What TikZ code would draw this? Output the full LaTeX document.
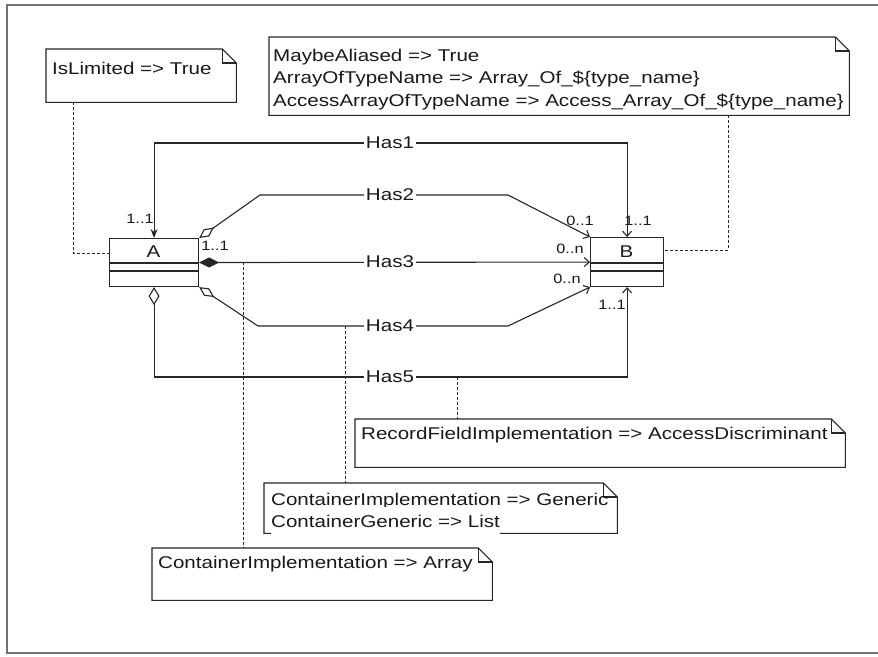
\documentclass[tikz,border=0pt]{standalone}
\usepackage{fontspec}
\setmainfont{Liberation Sans}
\usetikzlibrary{arrows.meta,calc}
\newcommand{\hs}[1]{\scalebox{1.21}[1]{#1}}
\newcommand{\drawnote}[1]{%
  \draw[ln, fill=white] (#1.north west) -- ($(#1.north east)+(-14,0)$) -- ($(#1.north east)+(0,14)$) -- (#1.south east) -- (#1.south west) -- cycle;
  \draw[ln] ($(#1.north east)+(-14,0)$) -- ($(#1.north east)+(-14,14)$) -- ($(#1.north east)+(0,14)$);}
\begin{document}
\begin{tikzpicture}[x=1pt,y=-1pt,
  ln/.style={draw=black!85, line width=1.1pt},
  dl/.style={draw=black!85, line width=1pt, dash pattern=on 3pt off 2pt},
  txt/.style={font=\fontsize{17}{22}\selectfont, inner sep=0pt, text=black!90},
  mult/.style={font=\fontsize{13.5}{15}\selectfont, inner sep=0pt, text=black!90},
  lbl/.style={txt, fill=white, inner xsep=2pt, inner ysep=1pt},
  classbox/.style={draw=black!85, line width=1.1pt, inner sep=0pt, anchor=north west},
  notebox/.style={inner sep=0pt, anchor=north west},
]
\useasboundingbox (0,0) rectangle (878,656);
\fill[white] (0,0) rectangle (878,656);
% frame
\draw[draw=black!55, line width=2pt] (878,5) -- (7,5) -- (7,653) -- (878,653);

% classes
\node[classbox, minimum width=89, minimum height=48] (A) at (109,238) {};
\node[classbox, minimum width=73, minimum height=49] (B) at (590,237) {};
\node[txt] (An) at (153.5,252) {\hs{A}};
\node[txt] (Bn) at (626.5,252) {\hs{B}};
\draw[ln] ($(A.north west)+(0,25)$) -- ($(A.north east)+(0,25)$);
\draw[ln] ($(A.north west)+(0,33)$) -- ($(A.north east)+(0,33)$);
\draw[ln] ($(B.north west)+(0,26)$) -- ($(B.north east)+(0,26)$);
\draw[ln] ($(B.north west)+(0,34)$) -- ($(B.north east)+(0,34)$);

% notes
\node[notebox, minimum width=190, minimum height=53] (nIs) at (46,49) {};
\node[notebox, minimum width=580, minimum height=78] (nBig) at (269,37) {};
\node[notebox, minimum width=490, minimum height=48] (nRec) at (355,419) {};
\node[notebox, minimum width=353, minimum height=50] (nGen) at (264,483) {};
\node[notebox, minimum width=340, minimum height=52] (nArr) at (152,548) {};

% dashed anchors
\coordinate (d1) at (73,253);
\coordinate (d2) at (728,250);
\coordinate (d3) at (243,262);
\coordinate (d4) at (345,326);
\coordinate (d5) at (457,377);
\draw[dl] (nIs.south -| d1) -- (d1) -- (d1 -| A.west);
\draw[dl] (nBig.south -| d2) -- (d2) -- (d2 -| B.east);
\draw[dl] (d3) -- (d3 |- nArr.north);
\draw[dl] (d4) -- (d4 |- nGen.north);
\draw[dl] (d5) -- (d5 |- nRec.north);

\drawnote{nIs}
\drawnote{nBig}
\drawnote{nRec}
\drawnote{nGen}
\drawnote{nArr}

% note texts
\node[txt, anchor=base west] (tIs) at (52,74) {\hs{IsLimited => True}};
\node[txt, anchor=base west] (tB1) at (273,61) {\hs{MaybeAliased => True}};
\node[txt, anchor=base west] (tB2) at (273,83) {\hs{ArrayOfTypeName => Array\_Of\_\$\{type\_name\}}};
\node[txt, anchor=base west] (tB3) at (273,106) {\hs{AccessArrayOfTypeName => Access\_Array\_Of\_\$\{type\_name\}}};
\node[txt, anchor=base west] (tRec) at (361,439) {\hs{RecordFieldImplementation => AccessDiscriminant}};
\node[txt, anchor=base west] (tG1) at (271,505) {\hs{ContainerImplementation => Generic}};
\node[txt, anchor=base west, fill=white, inner ysep=8pt] (tG2) at (271,527) {\hs{ContainerGeneric => List}};
\node[txt, anchor=base west] (tArr) at (158,568) {\hs{ContainerImplementation => Array}};

% associations
\coordinate (h1) at (390,143);
\coordinate (h2a) at (260,195);
\coordinate (h2b) at (508,195);
\coordinate (h3) at (390,262);
\coordinate (h4a) at (258,326);
\coordinate (h4b) at (508,326);
\coordinate (h5) at (390,377);
\draw[ln, {Stealth[length=9pt,width=7pt]}-{Straight Barb[length=5pt,width=9pt]}] (A.north) |- (h1) -| (B.north);
\draw[ln, {Diamond[open,length=18pt,width=9pt]}-{Straight Barb[length=5pt,width=9pt]}] (A.north east) -- (h2a) -- (h2b) -- (B.north west);
\draw[ln, {Diamond[length=20pt,width=10pt]}-{Straight Barb[length=5pt,width=9pt]}] (A.east) -- (B.west);
\draw[ln, {Diamond[open,length=18pt,width=9pt]}-{Straight Barb[length=5pt,width=9pt]}] (A.south east) -- (h4a) -- (h4b) -- (B.south west);
\draw[ln, {Diamond[open,length=18pt,width=11pt]}-{Straight Barb[length=5pt,width=9pt]}] (A.south) |- (h5) -| (B.south);

\node[lbl] (L1) at (h1) {\hs{Has1}};
\node[lbl] (L2) at (390,195) {\hs{Has2}};
\node[lbl] (L3) at (h3) {\hs{Has3}};
\node[lbl] (L4) at (390,326) {\hs{Has4}};
\node[lbl] (L5) at (h5) {\hs{Has5}};

% multiplicities
\node[mult] (m1) at (140,219) {\hs{1..1}};
\node[mult] (m2) at (215,246) {\hs{1..1}};
\node[mult] (m3) at (580,221) {\hs{0..1}};
\node[mult] (m4) at (638,221) {\hs{1..1}};
\node[mult] (m5) at (570,249) {\hs{0..n}};
\node[mult] (m6) at (567,279) {\hs{0..n}};
\node[mult] (m7) at (612,305) {\hs{1..1}};
\end{tikzpicture}
\end{document}
